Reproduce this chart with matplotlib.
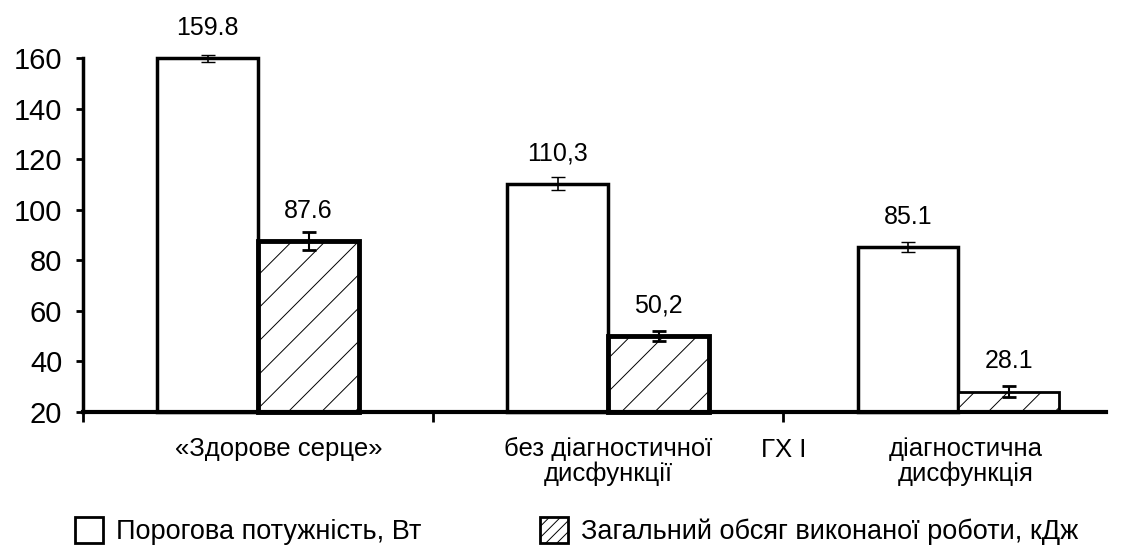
import matplotlib.pyplot as plt
from matplotlib.patches import Patch
import numpy as np

plt.rcParams['font.family'] = ['Liberation Sans', 'DejaVu Sans']
plt.rcParams['hatch.linewidth'] = 0.7

groups = ['«Здорове серце»', 'без діагностичної\nдисфункції', 'діагностична\nдисфункція']
mid_label = 'ГХ І'
power = [159.8, 110.3, 85.1]
power_err = [1.5, 2.5, 2.0]
power_txt = ['159.8', '110,3', '85.1']
work = [87.6, 50.2, 28.1]
work_err = [3.5, 2.0, 2.0]
work_txt = ['87.6', '50,2', '28.1']
legend_labels = ['Порогова потужність, Вт', 'Загальний обсяг виконаної роботи, кДж']

fig = plt.figure(figsize=(11.26, 5.46), dpi=100)
ax = fig.add_axes([0.0737, 0.2454, 0.933, 0.6484])

x = np.arange(len(groups)) + 0.5
w = 0.288
base = 20

ax.bar(x - w / 2, np.array(power) - base, w, bottom=base, color='white',
       edgecolor='black', linewidth=2.5, clip_on=False, zorder=2)
ax.bar(x + w / 2, np.array(work) - base, w, bottom=base, color='white',
       edgecolor='black', hatch='/', linewidth=[3.5, 3.5, 2], clip_on=False, zorder=2)
ax.errorbar(x - w / 2, power, yerr=power_err, fmt='none', ecolor='black',
            elinewidth=1.2, capsize=5, clip_on=False, zorder=3)
ax.errorbar(x + w / 2, work, yerr=work_err, fmt='none', ecolor='black',
            elinewidth=1.5, capsize=5, capthick=2, clip_on=False, zorder=3)

for xi, v, t in zip(x - w / 2, power, power_txt):
    ax.annotate(t, (xi, v), xytext=(0, 22), textcoords='offset points',
                ha='center', va='center', fontsize=18)
for xi, v, t in zip(x + w / 2, work, work_txt):
    ax.annotate(t, (xi, v), xytext=(0, 22), textcoords='offset points',
                ha='center', va='center', fontsize=18)

ax.set_xlim(0, 3)
ax.set_ylim(20, 160)
ax.set_yticks(range(20, 161, 20))
ax.tick_params(axis='y', labelsize=21, length=5, width=2, direction='out', pad=10)

ax.set_xticks([0, 1, 2])
ax.set_xticklabels(['', '', mid_label], fontsize=18.5)
ax.set_xticks(x + np.array([0.06, 0.0, 0.02]), minor=True)
ax.set_xticklabels(groups, minor=True, fontsize=18.5, linespacing=1.0, va='top')
ax.tick_params(axis='x', which='major', length=7, width=2, direction='out', pad=12)
ax.tick_params(axis='x', which='minor', length=0, pad=18)

for s in ['top', 'right']:
    ax.spines[s].set_visible(False)
ax.spines['left'].set_linewidth(2.5)
ax.spines['bottom'].set_linewidth(3)
ax.spines['bottom'].set_bounds(0, 2.92)

handles = [Patch(facecolor='white', edgecolor='black', linewidth=2),
           Patch(facecolor='white', edgecolor='black', hatch='///', linewidth=2)]
for h, lab, xpos in zip(handles, legend_labels, [0.0666, 0.4796]):
    fig.legend([h], [lab], loc='center left', bbox_to_anchor=(xpos, 0.027),
               frameon=False, handlelength=1.05, handleheight=1.1,
               handletextpad=0.45, fontsize=19.5, borderaxespad=0, borderpad=0)

fig.savefig('out.png', dpi=100)
